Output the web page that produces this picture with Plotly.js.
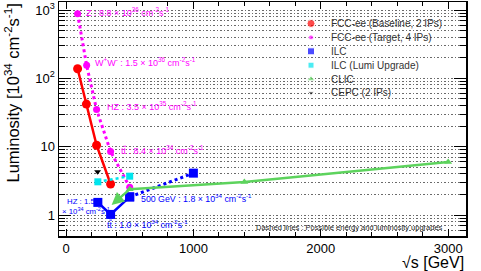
<!DOCTYPE html>
<html><head><meta charset="utf-8">
<script src="https://cdn.plot.ly/plotly-3.0.1.min.js"></script>
<style>body{margin:0;background:#fff;} #chart{width:481px;height:271px;}</style>
</head><body><div id="chart"></div>
<script>
// ---- data ----
const fccBaseE = [91, 160, 240, 350];
const fccBaseL = [138, 42, 10.5, 2.84];
const fccTargetE = [91, 162, 240, 350, 500];
const fccTargetL = [880, 155, 35, 8.5, 2.55];
const ilcE = [250, 350, 500];
const ilcL = [1.53, 1.02, 1.84];
const ilcUpgE = [500, 1000];
const ilcUpgL = [1.84, 4.1];
const ilcLumiE = [250, 500];
const ilcLumiL = [3.06, 3.7];
const clicE = [500, 1400, 3000];
const clicL = [2.38, 3.05, 5.95];
const clicArrowE = [500, 358];
const clicArrowL = [2.38, 1.4];
const cepcE = [248];
const cepcL = [4.3];

const legendNames = ["FCC-ee (Baseline, 2 IPs)", "FCC-ee (Target, 4 IPs)", "ILC",
  "ILC (Lumi Upgrade)", "CLIC", "CEPC (2 IPs)"];
const xMajorTicks = [0, 1000, 2000, 3000];
const yMajorTicks = [1, 10, 100, 1000];
const yMajorText = ["1", "10", "10<sup>2</sup>", "10<sup>3</sup>"];
const yMinorTicks = [0.5,0.6,0.7,0.8,0.9,2,3,4,5,6,7,8,9,20,30,40,50,60,70,80,90,200,300,400,500,600,700,800,900];

const magLabels = [
  "Z : 8.8 × 10<sup>36</sup> cm<sup>-2</sup>s<sup>-1</sup>",
  "W<sup>+</sup>W<sup>-</sup> : 1.5 × 10<sup>36</sup> cm<sup>-2</sup>s<sup>-1</sup>",
  "HZ : 3.5 × 10<sup>35</sup> cm<sup>-2</sup>s<sup>-1</sup>",
  "t<span style=\"text-decoration:overline\">t</span> : 8.4 × 10<sup>34</sup> cm<sup>-2</sup>s<sup>-1</sup>"
];
const ilcLabels = [
  "HZ : 1.5",
  "× 10<sup>34</sup> cm<sup>-2</sup>s<sup>-1</sup>",
  "t<span style=\"text-decoration:overline\">t</span> : 1.0 × 10<sup>34</sup> cm<sup>-2</sup>s<sup>-1</sup>",
  "500 GeV : 1.8 × 10<sup>34</sup> cm<sup>-2</sup>s<sup>-1</sup>"
];
const noteText = "Dashed lines : Possible energy and luminosity upgrades";

// ---- styles ----
const RED = "#ff0000", MAG = "#ff00ff", BLUE = "#0000ff", CYAN = "#00e5ee", GREEN = "#5dd35d", BLK = "#000000";
const W = 481, H = 271, ML = 59, MR = 15, MT = 2, MB = 35;
const PW = W - ML - MR, PH = H - MT - MB;
const px = v => (v - ML) / PW;
const py = v => (H - MB - v) / PH;

const traces = [
  {x: fccBaseE, y: fccBaseL, mode: "lines+markers", line: {color: RED, width: 2.5},
   marker: {color: RED, size: 9, symbol: "circle"}},
  {x: fccTargetE, y: fccTargetL, mode: "lines+markers", line: {color: MAG, width: 3, dash: "dot"},
   marker: {color: MAG, size: 7, symbol: "circle"}},
  {x: ilcE, y: ilcL, mode: "lines+markers", line: {color: BLUE, width: 2.5},
   marker: {color: BLUE, size: 9, symbol: "square"}},
  {x: ilcUpgE, y: ilcUpgL, mode: "lines+markers", line: {color: BLUE, width: 3, dash: "3px,3px"},
   marker: {color: BLUE, size: 9, symbol: "square"}},
  {x: ilcLumiE, y: ilcLumiL, mode: "lines+markers", line: {color: CYAN, width: 2.5, dash: "3px,3px"},
   marker: {color: CYAN, size: 7, symbol: "square"}},
  {x: clicE, y: clicL, mode: "lines+markers", line: {color: GREEN, width: 2.5},
   marker: {color: GREEN, size: 7, symbol: "triangle-up"}},
  {x: cepcE, y: cepcL, mode: "markers", marker: {color: BLK, size: 6, symbol: "triangle-down"}}
];
traces.forEach(t => { t.showlegend = false; t.hoverinfo = "skip"; });

// manual legend on an overlay axis pair
const legColors = [RED, MAG, BLUE, CYAN, GREEN, BLK];
const legSymbols = ["circle", "circle", "square", "square", "triangle-up", "triangle-down"];
const legSizes = [8, 5, 7, 6, 7, 5];
const legX = px(311), legTextX = px(329), legY0 = 23.5, legStep = 13.9;
const legYs = legendNames.map((n, i) => py(legY0 + i * legStep));
traces.push({x: legendNames.map(() => legX), y: legYs, xaxis: "x2", yaxis: "y2", mode: "markers",
  marker: {color: legColors, symbol: legSymbols, size: legSizes}, showlegend: false, hoverinfo: "skip"});

const ann = [];
legendNames.forEach((n, i) => ann.push({xref: "paper", yref: "paper", x: legTextX, y: legYs[i],
  xanchor: "left", yanchor: "middle", text: n, showarrow: false, font: {size: 10, color: "#333"}}));

const magPos = [[84, 12], [93, 62], [105, 106], [119, 149.5]];
magLabels.forEach((t, i) => ann.push({xref: "paper", yref: "paper", x: px(magPos[i][0]), y: py(magPos[i][1]),
  xanchor: "left", yanchor: "middle", text: t, showarrow: false, font: {size: 9, color: MAG}}));
const ilcPos = [[65, 201.5], [60, 211], [105, 223.5], [139, 198]];
const ilcSizes = [7.8, 7.8, 8.8, 8.8];
ilcLabels.forEach((t, i) => ann.push({xref: "paper", yref: "paper", x: px(ilcPos[i][0]), y: py(ilcPos[i][1]),
  xanchor: "left", yanchor: "middle", text: t, showarrow: false, font: {size: ilcSizes[i], color: BLUE}}));

ann.push({xref: "paper", yref: "paper", x: px(349), y: py(227), xanchor: "center", yanchor: "middle",
  text: noteText, showarrow: false, font: {size: 7.5, color: "#222"}});

// CLIC arrow
ann.push({xref: "x", yref: "y", axref: "x", ayref: "y",
  x: clicArrowE[1], y: Math.log10(clicArrowL[1]), ax: clicArrowE[0], ay: Math.log10(clicArrowL[0]),
  text: "", showarrow: true, arrowhead: 2, arrowsize: 1, arrowwidth: 2.5, arrowcolor: GREEN, standoff: 0, startstandoff: 0});

// axis titles
ann.push({xref: "paper", yref: "paper", x: 1.0, y: py(262.5), xanchor: "right", yanchor: "middle",
  text: "√s [GeV]", showarrow: false, font: {size: 16, color: "#000"}});
ann.push({xref: "paper", yref: "paper", x: px(12), y: 1.0, xanchor: "center", yanchor: "top", textangle: -90,
  text: "Luminosity [10<sup>34</sup> cm<sup>-2</sup>s<sup>-1</sup>]", showarrow: false, font: {size: 16.5, color: "#000"}});

const layout = {
  width: W, height: H, margin: {l: ML, r: MR, t: MT, b: MB, pad: 0},
  paper_bgcolor: "#fff", plot_bgcolor: "#fff", showlegend: false,
  font: {family: "Liberation Sans, Arial, sans-serif", color: "#000"},
  xaxis: {range: [-55, 3140], tickmode: "array", tickvals: xMajorTicks, ticks: "inside", ticklen: 7,
    tickcolor: "#000", showline: true, linecolor: "#000", linewidth: 1.5, mirror: "ticks",
    showgrid: false, zeroline: false, tickfont: {size: 13},
    minor: {tickmode: "linear", tick0: 0, dtick: 200, ticks: "inside", ticklen: 4, tickcolor: "#000", showgrid: false}},
  yaxis: {type: "log", range: [-0.307, 3.117], tickmode: "array", tickvals: yMajorTicks, ticktext: yMajorText,
    ticks: "inside", ticklen: 12, tickcolor: "#000", showline: true, linecolor: "#000", linewidth: 1.5, mirror: "ticks",
    showgrid: true, gridcolor: "#6a6a6a", griddash: "1.5px,2px", gridwidth: 1, zeroline: false, tickfont: {size: 13},
    minor: {tickmode: "array", tickvals: yMinorTicks, ticks: "inside", ticklen: 6, tickcolor: "#000",
      showgrid: true, gridcolor: "#6a6a6a", griddash: "1.5px,2px", gridwidth: 1}},
  xaxis2: {overlaying: "x", range: [0, 1], visible: false, fixedrange: true},
  yaxis2: {overlaying: "y", range: [0, 1], visible: false, fixedrange: true},
  annotations: ann
};

Plotly.newPlot("chart", traces, layout, {staticPlot: true, displayModeBar: false});
</script></body></html>
